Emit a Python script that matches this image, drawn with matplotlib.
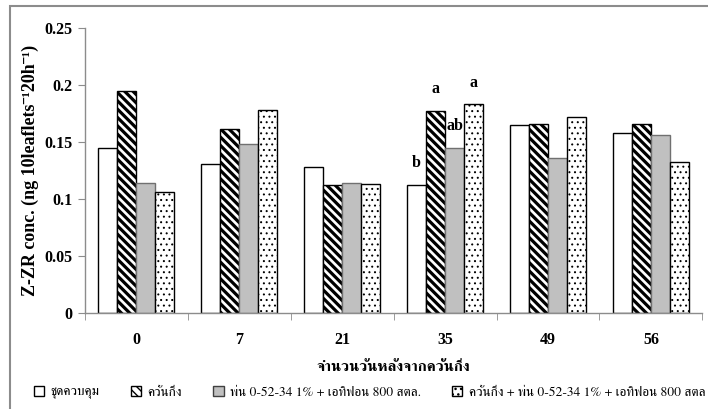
import matplotlib
matplotlib.use("Agg")
import matplotlib.pyplot as plt
import numpy as np
from matplotlib.patches import Patch, Rectangle

# days after girdling
days = ["0", "7", "21", "35", "49", "56"]

# Z-ZR conc. per treatment
control = [0.145, 0.131, 0.128, 0.112, 0.165, 0.158]
girdle = [0.195, 0.161, 0.112, 0.177, 0.166, 0.166]
spray = [0.114, 0.148, 0.114, 0.145, 0.136, 0.156]
girdle_spray = [0.106, 0.178, 0.113, 0.183, 0.172, 0.132]

names = ["ชุดควบคุม", "ควั่นกิ่ง", "พ่น 0-52-34 1% + เอทิฟอน 800 สตล.",
         "ควั่นกิ่ง + พ่น 0-52-34 1% + เอทิฟอน 800 สตล"]

# letters over day 35
letters = ["b", "a", "ab", "a"]

serif = ["Liberation Serif", "FreeSerif"]
thai = ["FreeSerif", "Liberation Serif"]

fig = plt.figure(figsize=(7.08, 4.09), dpi=100)
ax = fig.add_axes([0.120, 0.235, 0.872, 0.697])

# frame round the whole picture
fig.patches.append(Rectangle((0.014, -0.05), 1.2, 1.035, transform=fig.transFigure,
                             fill=False, edgecolor="#8c8c8c", lw=1.5))

x = np.arange(len(days))
w = 0.185
styles = [
    dict(color="white", edgecolor="black", hatch=None, hlw=1.0),
    dict(color="white", edgecolor="black", hatch="\\\\\\\\", hlw=2.3),
    dict(color="#c0c0c0", edgecolor="#707070", hatch=None, hlw=1.0),
    dict(color="white", edgecolor="black", hatch="...", hlw=0.7),
]
series = [control, girdle, spray, girdle_spray]
for i, (vals, st) in enumerate(zip(series, styles)):
    with plt.rc_context({"hatch.linewidth": st["hlw"]}):
        ax.bar(x + (i - 1.5) * w, vals, w, facecolor=st["color"], edgecolor=st["edgecolor"],
               hatch=st["hatch"], linewidth=1.0, zorder=2)

# significance letters at day 35
for i, lab in enumerate(letters):
    v = series[i][3]
    ax.text(x[3] + (i - 1.5) * w, v + 0.012, lab, ha="center", va="bottom",
            fontsize=11.5, fontweight="bold", family=serif)

ax.set_xlim(-0.5, len(days) - 0.5)
ax.set_ylim(0, 0.25)
ax.set_yticks([0, 0.05, 0.1, 0.15, 0.2, 0.25])
ax.set_yticklabels(["0", "0.05", "0.1", "0.15", "0.2", "0.25"])
ax.set_xticks(x)
ax.set_xticklabels(days)
ax.set_xticks(np.arange(len(days) + 1) - 0.5, minor=True)
ax.tick_params(axis="x", which="major", length=0, pad=14)
ax.tick_params(axis="x", which="minor", length=5, color="#8c8c8c", direction="out")
ax.tick_params(axis="y", length=5, color="#8c8c8c", pad=4)
for t in ax.get_xticklabels() + ax.get_yticklabels():
    t.set_family(serif)
    t.set_fontweight("bold")
    t.set_fontsize(11.5)

for s in ["top", "right"]:
    ax.spines[s].set_visible(False)
for s in ["left", "bottom"]:
    ax.spines[s].set_color("#8c8c8c")
    ax.spines[s].set_linewidth(1.0)

ax.set_xlabel("จำนวนวันหลังจากควั่นกิ่ง", family=thai, fontweight="bold", fontsize=11, labelpad=9)
ax.set_ylabel("Z-ZR conc. (ng 10leaflets⁻¹20h⁻¹)", family=serif,
              fontweight="bold", fontsize=13, labelpad=4)

handles = []
for st in styles:
    with plt.rc_context({"hatch.linewidth": st["hlw"]}):
        handles.append(Patch(facecolor=st["color"],
                             edgecolor="#404040" if st["hatch"] is None and st["color"] != "white" else "black",
                             hatch=st["hatch"], linewidth=1.0))
leg = fig.legend(handles, names, loc="center left", bbox_to_anchor=(0.040, 0.04), ncol=4,
                 frameon=False, prop={"family": thai, "size": 9.7}, handlelength=0.8,
                 handleheight=0.8, handletextpad=0.45, columnspacing=2.3, borderaxespad=0)

fig.savefig("out.png", dpi=100)
